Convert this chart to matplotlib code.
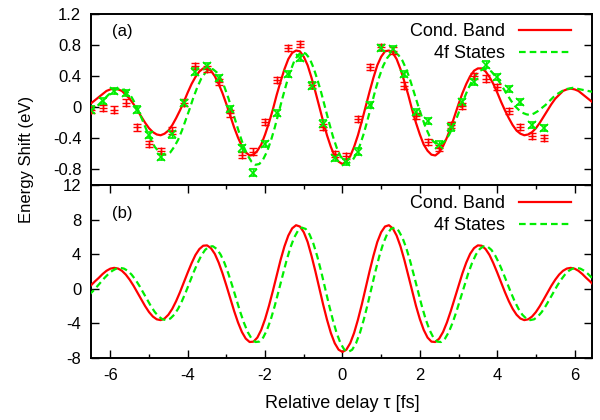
import matplotlib
matplotlib.use("Agg")
import matplotlib.pyplot as plt
import numpy as np

plt.rcParams['font.family'] = ['Liberation Sans', 'DejaVu Sans']
plt.rcParams['font.size'] = 12

t_red = np.linspace(-6.5, 6.5, 131)
t_green = np.linspace(-6.55, 6.55, 132)

cond_top = [0.05, 0.09, 0.13, 0.17, 0.21, 0.23, 0.24, 0.23, 0.21, 0.16, 0.11, 0.04, -0.04, -0.12, -0.20, -0.27,
            -0.32, -0.35, -0.36, -0.34, -0.30, -0.23, -0.14, -0.04, 0.07, 0.19, 0.30, 0.39, 0.46, 0.50, 0.50, 0.47,
            0.40, 0.30, 0.18, 0.04, -0.11, -0.26, -0.39, -0.50, -0.58, -0.62, -0.61, -0.56, -0.48, -0.35, -0.20,
            -0.03, 0.16, 0.33, 0.49, 0.62, 0.70, 0.73, 0.72, 0.65, 0.54, 0.38, 0.20, 0.01, -0.18, -0.36, -0.51,
            -0.63, -0.70,
            -0.73, -0.70, -0.63, -0.51, -0.36, -0.18, 0.01, 0.20, 0.38, 0.54, 0.65, 0.72, 0.73, 0.70, 0.62, 0.49,
            0.33, 0.16, -0.03, -0.20, -0.35, -0.48, -0.56, -0.61, -0.62, -0.58, -0.50, -0.39, -0.26, -0.11, 0.04,
            0.18, 0.30, 0.40, 0.47, 0.50, 0.50, 0.46, 0.39, 0.30, 0.19, 0.07, -0.04, -0.14, -0.23, -0.30, -0.34,
            -0.36, -0.35, -0.32, -0.27, -0.20, -0.12, -0.04, 0.04, 0.11, 0.16, 0.21, 0.23, 0.24, 0.23, 0.21, 0.17,
            0.13, 0.09, 0.05]

states_top = [-0.06, -0.03, 0.01, 0.06, 0.11, 0.16, 0.20, 0.23, 0.24, 0.23, 0.19, 0.13, 0.04, -0.07, -0.19, -0.31,
              -0.42, -0.51, -0.57, -0.61, -0.61, -0.58, -0.51, -0.42, -0.30, -0.16, -0.02, 0.13, 0.26, 0.37, 0.44,
              0.49, 0.49, 0.45, 0.37, 0.26, 0.12, -0.04, -0.20, -0.36, -0.51, -0.62, -0.70, -0.74, -0.73, -0.67,
              -0.57, -0.43, -0.26, -0.07, 0.12, 0.30, 0.46, 0.59, 0.67, 0.71, 0.69, 0.63, 0.51, 0.36, 0.19, 0.00,
              -0.19, -0.37, -0.52, -0.63, -0.70,
              -0.72, -0.69, -0.61, -0.49, -0.34, -0.16, 0.03, 0.22, 0.39, 0.53, 0.63, 0.69, 0.71, 0.67, 0.60, 0.49,
              0.35, 0.19, 0.03, -0.12, -0.26, -0.37, -0.44, -0.48, -0.48, -0.43, -0.36, -0.26, -0.14, -0.01, 0.12,
              0.24, 0.34, 0.42, 0.47, 0.49, 0.49, 0.46, 0.40, 0.33, 0.25, 0.17, 0.09, 0.02, -0.03, -0.07, -0.09,
              -0.10, -0.08, -0.05, -0.01, 0.03, 0.08, 0.13, 0.17, 0.20, 0.23, 0.24, 0.25, 0.24, 0.23, 0.22, 0.21,
              0.20, 0.19]

cond_bot = [0.40, 0.85, 1.26, 1.71, 2.08, 2.33, 2.42, 2.34, 2.08, 1.64, 1.05, 0.35, -0.44, -1.24, -2.01, -2.69,
            -3.21, -3.53, -3.62, -3.44, -3.00, -2.32, -1.43, -0.39, 0.74, 1.88, 2.96, 3.91, 4.59, 4.98, 5.02, 4.70,
            4.04, 3.03, 1.78, 0.37, -1.11, -2.57, -3.89, -4.99, -5.76, -6.15, -6.11, -5.64, -4.75, -3.50, -1.97,
            -0.26, 1.55, 3.33, 4.90, 6.15, 6.99, 7.35, 7.20, 6.54, 5.41, 3.81, 2.02, 0.10, -1.81, -3.57, -5.11,
            -6.29, -7.04,
            -7.30, -7.04, -6.29, -5.11, -3.57, -1.81, 0.10, 2.02, 3.81, 5.41, 6.54, 7.20, 7.35, 6.99, 6.15, 4.90,
            3.33, 1.55, -0.26, -1.97, -3.50, -4.75, -5.64, -6.11, -6.15, -5.76, -4.99, -3.89, -2.57, -1.11, 0.37,
            1.78, 3.03, 4.04, 4.70, 5.02, 4.98, 4.59, 3.91, 2.96, 1.88, 0.74, -0.39, -1.43, -2.32, -3.00, -3.44,
            -3.62, -3.53, -3.21, -2.69, -2.01, -1.24, -0.44, 0.35, 1.05, 1.64, 2.08, 2.34, 2.42, 2.33, 2.08, 1.71,
            1.26, 0.85, 0.40]

states_bot = [-0.70, -0.27, 0.23, 0.75, 1.26, 1.71, 2.08, 2.33, 2.42, 2.34, 2.08, 1.64, 1.05, 0.35, -0.44, -1.24,
              -2.01, -2.69, -3.21, -3.53, -3.62, -3.44, -3.00, -2.32, -1.43, -0.39, 0.74, 1.88, 2.93, 3.83, 4.50,
              4.88, 4.92, 4.61, 3.96, 2.99, 1.77, 0.37, -1.11, -2.57, -3.89, -4.99, -5.76, -6.15, -6.11, -5.64,
              -4.75, -3.50, -1.97, -0.26, 1.50, 3.20, 4.71, 5.91, 6.72, 7.07, 6.92, 6.28, 5.20, 3.73, 1.99, 0.10,
              -1.82, -3.58, -5.12, -6.30, -7.05,
              -7.30, -7.05, -6.30, -5.12, -3.58, -1.82, 0.10, 1.99, 3.73, 5.20, 6.28, 6.92, 7.07, 6.72, 5.91, 4.71,
              3.20, 1.50, -0.26, -1.97, -3.50, -4.75, -5.64, -6.11, -6.15, -5.76, -4.99, -3.89, -2.57, -1.11, 0.37,
              1.77, 2.99, 3.96, 4.61, 4.92, 4.88, 4.50, 3.83, 2.93, 1.88, 0.74, -0.39, -1.43, -2.32, -3.00, -3.44,
              -3.62, -3.53, -3.21, -2.69, -2.01, -1.24, -0.44, 0.35, 1.05, 1.64, 2.08, 2.34, 2.42, 2.33, 2.08, 1.71,
              1.26, 0.75]

# measured points (panel a)
t_pts = [-6.5, -6.2, -5.9, -5.6, -5.3, -5.0, -4.7, -4.4, -4.1, -3.8, -3.5, -3.2, -2.9, -2.6, -2.3, -2.0, -1.7,
         -1.4, -1.1, -0.8, -0.5, -0.2, 0.1, 0.4, 0.7, 1.0, 1.3, 1.6, 1.9, 2.2, 2.5, 2.8, 3.1, 3.4, 3.7, 4.0, 4.3,
         4.6, 4.9, 5.2]
cond_pts = [-0.03, -0.01, -0.03, 0.06, -0.26, -0.47, -0.56, -0.30, 0.06, 0.53, 0.49, 0.33, -0.08, -0.61, -0.57,
            -0.19, 0.35, 0.76, 0.81, 0.29, -0.25, -0.60, -0.63, -0.15, 0.52, 0.78, 0.73, 0.28, -0.11, -0.45, -0.52,
            -0.23, 0.02, 0.40, 0.37, 0.26, -0.05, -0.25, -0.37, -0.40]
states_pts = [-0.03, 0.08, 0.21, 0.18, -0.03, -0.36, -0.64, -0.35, 0.05, 0.46, 0.53, 0.38, -0.02, -0.53, -0.84,
              -0.47, -0.07, 0.43, 0.63, 0.28, -0.21, -0.65, -0.70, -0.57, 0.03, 0.76, 0.75, 0.43, -0.06, -0.18,
              -0.48, -0.26, 0.07, 0.33, 0.55, 0.39, 0.24, 0.07, -0.23, -0.27]
pt_err = 0.04

top_ticks = [-0.8, -0.4, 0, 0.4, 0.8, 1.2]
top_labels = ["-0.8", "-0.4", "0", "0.4", "0.8", "1.2"]
bot_ticks = [-8, -4, 0, 4, 8, 12]
bot_labels = ["-8", "-4", "0", "4", "8", "12"]
x_ticks = [-6, -4, -2, 0, 2, 4, 6]
x_labels = ["-6", "-4", "-2", "0", "2", "4", "6"]
x_minor = [-5, -3, -1, 1, 3, 5]

red = '#ff0000'
green = '#00ee00'
dash = (0, (3, 1.8))

fig = plt.figure(figsize=(6, 4.2), dpi=100)
ax1 = fig.add_axes([91 / 600, 1 - 185 / 420, 501 / 600, 171 / 420])
ax2 = fig.add_axes([91 / 600, 1 - 358 / 420, 501 / 600, 173 / 420])

ax1.plot(t_red, cond_top, color=red, linewidth=1.6, label="Cond. Band", zorder=3)
ax1.plot(t_green, states_top, color=green, linewidth=1.6, linestyle=dash, label="4f States", zorder=3)
ax1.errorbar(t_pts, cond_pts, yerr=pt_err, fmt='+', color=red, ms=6, mew=1, elinewidth=1,
             capsize=3, capthick=1, zorder=4)
ax1.errorbar(t_pts, states_pts, yerr=pt_err, fmt='x', color=green, ms=6, mew=1.2, elinewidth=1,
             capsize=3, capthick=1, zorder=4)

ax2.plot(t_red, cond_bot, color=red, linewidth=1.6, label="Cond. Band", zorder=3)
ax2.plot(t_green, states_bot, color=green, linewidth=1.6, linestyle=dash, label="4f States", zorder=3)

for ax in (ax1, ax2):
    ax.set_xlim(-6.5, 6.45)
    for s in ax.spines.values():
        s.set_linewidth(1.4)
    ax.tick_params(axis='y', which='both', direction='in', left=True, right=True, length=5.5, width=1, pad=7)

ax1.set_ylim(-1.0, 1.2)
ax1.set_yticks(top_ticks)
ax1.set_yticklabels(top_labels)
ax1.tick_params(axis='x', which='both', bottom=False, top=False, labelbottom=False)

ax2.set_ylim(-8, 12)
ax2.set_yticks(bot_ticks)
ax2.set_yticklabels(bot_labels)
ax2.set_xticks(x_ticks)
ax2.set_xticklabels(x_labels)
ax2.set_xticks(x_minor, minor=True)
ax2.tick_params(axis='x', which='both', direction='in', top=True, bottom=True, width=1, pad=7)
ax2.tick_params(axis='x', which='major', length=5.5)
ax2.tick_params(axis='x', which='minor', length=3)

leg_kw = dict(loc='upper right', frameon=False, markerfirst=False, fontsize=13, handlelength=2.9,
              handletextpad=0.75, labelspacing=0.25, borderpad=0, borderaxespad=0)
ax1.legend(bbox_to_anchor=(0.958, 0.945), **leg_kw)
ax2.legend(bbox_to_anchor=(0.958, 0.94), **leg_kw)

ax1.text(0.042, 0.895, "(a)", transform=ax1.transAxes, ha='left', va='center')
ax2.text(0.042, 0.838, "(b)", transform=ax2.transAxes, ha='left', va='center')

fig.text(27 / 600, 1 - 159 / 420, "Energy Shift (eV)", rotation=90, ha='center', va='center')
fig.text(342.5 / 600, 1 - 403 / 420, "Relative delay τ [fs]", ha='center', va='center', fontsize=13)

fig.savefig("out.png", dpi=100)
